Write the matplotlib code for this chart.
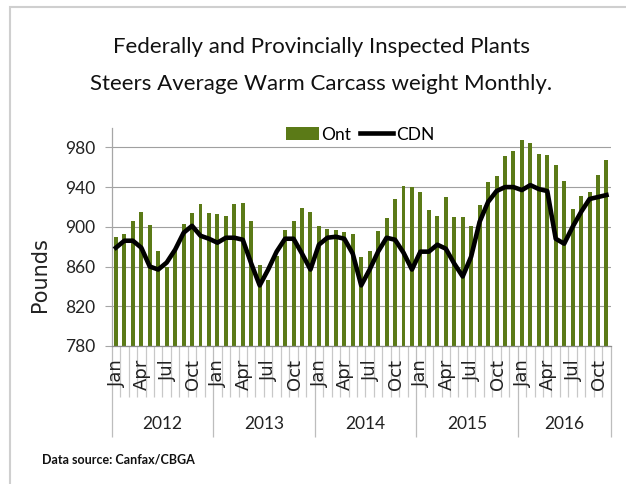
import matplotlib
matplotlib.use("Agg")
import matplotlib.pyplot as plt
from matplotlib.patches import Rectangle

# Jan 2012 .. Nov 2016
years = ["2012", "2013", "2014", "2015", "2016"]
month_names = ["Jan", "Feb", "Mar", "Apr", "May", "Jun",
               "Jul", "Aug", "Sep", "Oct", "Nov", "Dec"]
months_per_year = [12, 12, 12, 12, 11]
shown_months = ["Jan", "Apr", "Jul", "Oct"]

ont = [890, 893, 906, 915, 902, 876, 860, 876, 903, 914, 923, 914,
       913, 911, 923, 924, 906, 862, 846, 871, 897, 906, 919, 915,
       901, 898, 897, 895, 893, 870, 876, 896, 909, 928, 941, 940,
       935, 917, 911, 930, 910, 910, 901, 922, 945, 951, 971, 976,
       987, 984, 973, 972, 962, 946, 918, 931, 935, 952, 967]
cdn = [879, 886, 886, 879, 860, 857, 864, 877, 894, 901, 891, 888,
       884, 889, 889, 887, 863, 841, 857, 875, 888, 888, 873, 857,
       882, 889, 890, 888, 873, 841, 857, 875, 889, 887, 874, 857,
       875, 875, 882, 878, 863, 850, 870, 905, 925, 936, 940, 940,
       937, 942, 938, 936, 888, 883, 900, 915, 928, 930, 932]
yticks = [780, 820, 860, 900, 940, 980]

BAR = "#5b7a17"
GRID = "#a0a0a0"
AXC = "#a6a6a6"
FONT = ["Lato", "DejaVu Sans"]

W, H = 626, 484
fig = plt.figure(figsize=(W / 100, H / 100), dpi=100)
fig.patch.set_facecolor("white")

# chart area border (only left/top visible)
fig.patches.append(Rectangle((10 / W, -0.1), 1.2, 1.1 - 7 / H, transform=fig.transFigure,
                             fill=False, edgecolor="#cfcfcf", linewidth=1.5))

ax = fig.add_axes([111.7 / W, 1 - 346 / H, 499 / W, 218.5 / H])

x = list(range(len(ont)))
bars = ax.bar(x, ont, width=0.47, color=BAR, zorder=2, label="Ont")
line, = ax.plot(x, cdn, color="black", linewidth=3.3, solid_joinstyle="round", zorder=3, label="CDN")

ax.set_xlim(-0.5, len(ont) - 0.5)
ax.set_ylim(780, 1000)
ax.set_yticks(yticks)
ax.set_yticklabels([str(v) for v in yticks], family=FONT, fontsize=12.5, color="#222222")
ax.grid(axis="y", color=GRID, linewidth=0.8, zorder=0)
ax.tick_params(axis="y", direction="out", length=5, width=0.8, color=AXC, pad=7)

for s in ["top", "right"]:
    ax.spines[s].set_visible(False)
ax.spines["left"].set_color(AXC)
ax.spines["bottom"].set_color("#8c8c8c")
ax.spines["left"].set_linewidth(0.9)
ax.spines["bottom"].set_linewidth(0.9)

# month separators (minor) and year separators (major)
bounds = [b - 0.5 for b in range(1, len(ont))]
year_bounds = [-0.5]
for n in months_per_year:
    year_bounds.append(year_bounds[-1] + n)
ax.set_xticks(year_bounds)
ax.set_xticks(bounds, minor=True)
ax.set_xticklabels([])
ax.tick_params(axis="x", which="major", direction="out", length=65.5, width=0.9, color="#bdbdbd")
ax.tick_params(axis="x", which="minor", direction="out", length=36.7, width=0.9, color="#c8c8c8")

i = 0
for y, n in zip(years, months_per_year):
    for m in range(n):
        if month_names[m] in shown_months:
            ax.annotate(month_names[m], xy=(i + m, 0), xycoords=("data", "axes fraction"),
                        xytext=(1, -13), textcoords="offset pixels", rotation=90,
                        ha="center", va="top", fontsize=13, family="DejaVu Sans",
                        color="#222222")
    ax.annotate(y, xy=(i + (n - 1) / 2, 0), xycoords=("data", "axes fraction"),
                xytext=(0, -78), textcoords="offset pixels", ha="center", va="center",
                fontsize=12.5, family=FONT, color="#222222")
    i += n

fig.text(321 / W, 1 - 47 / H, "Federally and Provincially Inspected Plants",
         ha="center", va="center", fontsize=16, family=FONT, color="#111111")
fig.text(321 / W, 1 - 84 / H, "Steers Average Warm Carcass weight Monthly.",
         ha="center", va="center", fontsize=16, family=FONT, color="#111111")
fig.text(40 / W, 1 - 275 / H, "Pounds", rotation=90, ha="center", va="center",
         fontsize=15, family="DejaVu Sans", color="#222222")
fig.text(41.7 / W, 1 - 460 / H, "Data source: Canfax/CBGA", ha="left", va="center",
         fontsize=9, weight="bold", family=FONT, color="#111111")

fig.legend([bars, line], ["Ont", "CDN"], loc="center",
           bbox_to_anchor=(360 / W, 1 - 134.5 / H), ncol=2, frameon=False,
           prop={"family": FONT, "size": 12.5}, handlelength=1.9, handleheight=0.83,
           handletextpad=0.17, columnspacing=0.5, borderpad=0, borderaxespad=0)

fig.savefig("out.png", dpi=100, facecolor="white")
plt.close(fig)
